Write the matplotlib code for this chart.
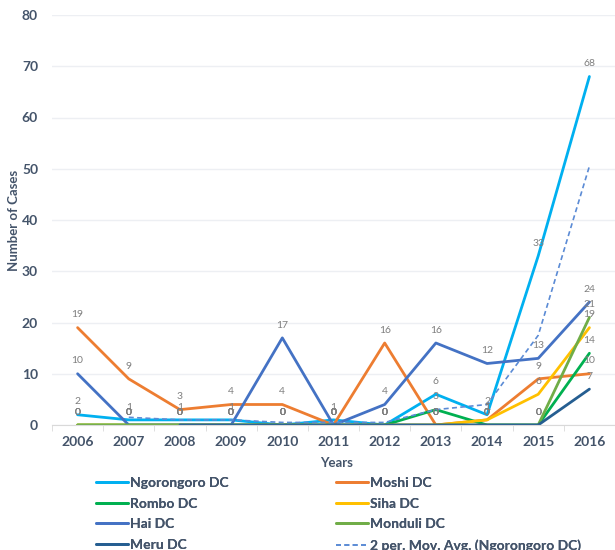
import numpy as np
import matplotlib
matplotlib.use("Agg")
import matplotlib.pyplot as plt

years = ["2006", "2007", "2008", "2009", "2010", "2011", "2012", "2013", "2014", "2015", "2016"]
ngorongoro = [2, 1, 1, 1, 0, 1, 0, 6, 2, 33, 68]
moshi = [19, 9, 3, 4, 4, 0, 16, 0, 1, 9, 10]
rombo = [0, 0, 0, 0, 0, 0, 0, 3, 0, 0, 14]
siha = [0, 0, 0, 0, 0, 0, 0, 0, 1, 6, 19]
hai = [10, 0, 0, 0, 17, 0, 4, 16, 12, 13, 24]
monduli = [0, 0, 0, 0, 0, 0, 0, 0, 0, 0, 21]
meru = [np.nan, np.nan, 0, 0, 0, 0, 0, 0, 0, 0, 7]
mov_avg = [np.nan, 1.5, 1, 1, 0.5, 0.5, 0.5, 3, 4, 17.5, 50.5]

series = [
    ("Ngorongoro DC", ngorongoro, "#00B0F0"),
    ("Moshi DC", moshi, "#ED7D31"),
    ("Rombo DC", rombo, "#00B050"),
    ("Siha DC", siha, "#FFC000"),
    ("Hai DC", hai, "#4472C4"),
    ("Monduli DC", monduli, "#70AD47"),
    ("Meru DC", meru, "#255E91"),
]

plt.rcParams['font.family'] = ['Lato', 'DejaVu Sans']
txt = "#44546A"

fig = plt.figure(figsize=(6.15, 5.5), dpi=100)
ax = fig.add_axes([52/615, 1-425/550, 1-52/615, 410/550])
x = np.arange(len(years))

handles = {}
for name, vals, col in series:
    ln, = ax.plot(x, vals, color=col, lw=2.0, solid_joinstyle='round', solid_capstyle='round')
    handles[name] = ln
    for xi, v in zip(x, vals):
        if not np.isnan(v):
            ax.annotate(f"{v:g}", (xi, v), xytext=(0, 6), textcoords='offset points',
                        ha='center', va='bottom', fontsize=7.5, color="#7F7F7F")
ma, = ax.plot(x, mov_avg, color="#5B8BD5", lw=1.2, ls=(0, (3, 2)))
handles["2 per. Mov. Avg. (Ngorongoro DC)"] = ma

ax.set_xlim(-0.5, 10.41)
ax.set_ylim(0, 80)
ax.set_yticks(range(0, 81, 10))
ax.set_xticks(x)
ax.set_xticklabels(years)
ax.set_xticks(np.arange(-0.5, 10.6, 1), minor=True)
ax.grid(axis='y', color="#EDEFF3", lw=1)
ax.set_axisbelow(True)
for s in ['top', 'right', 'left']:
    ax.spines[s].set_visible(False)
ax.spines['bottom'].set_color("#D9D9D9")
ax.tick_params(axis='y', length=0, pad=10, labelsize=10, labelcolor=txt)
ax.tick_params(axis='x', which='major', length=0, pad=8, labelsize=10, labelcolor=txt)
ax.tick_params(axis='x', which='minor', length=4, color="#D9D9D9")
for lab in ax.get_xticklabels() + ax.get_yticklabels():
    lab.set_fontweight('bold')

fig.text(337/615, 1-463/550, "Years", ha='center', va='center', fontsize=9.5,
         fontweight='bold', color=txt)
fig.text(14/615, 1-220/550, "Number of Cases", ha='center', va='center', rotation=90,
         fontsize=9.5, fontweight='bold', color=txt)

col1 = ["Ngorongoro DC", "Rombo DC", "Hai DC", "Meru DC"]
col2 = ["Moshi DC", "Siha DC", "Monduli DC", "2 per. Mov. Avg. (Ngorongoro DC)"]
for names, xpos in [(col1, 96/615), (col2, 336/615)]:
    leg = fig.legend([handles[n] for n in names], names, loc='upper left',
                     bbox_to_anchor=(xpos, 1-477/550), frameon=False, fontsize=10,
                     handlelength=2.3, handletextpad=0.15, borderpad=0, borderaxespad=0,
                     labelspacing=0.62, labelcolor=txt)
    for t in leg.get_texts():
        t.set_fontweight('bold')
    fig.add_artist(leg)

fig.savefig("out.png", dpi=100)
